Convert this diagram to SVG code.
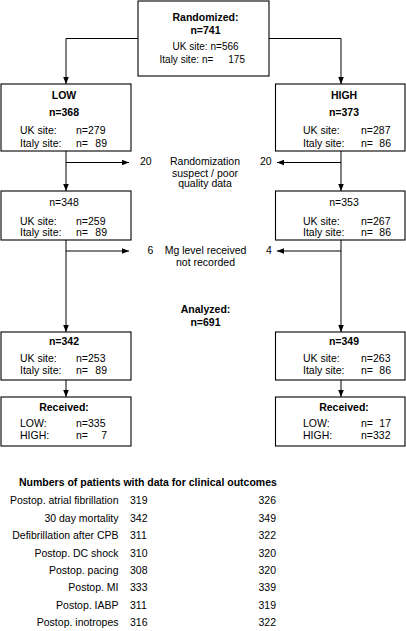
<svg xmlns="http://www.w3.org/2000/svg" width="406" height="631" viewBox="0 0 406 631">
<style>
text{font-family:"Liberation Sans",Arial,sans-serif;font-size:10.5px;fill:#000}
.b{font-weight:bold}
.c{text-anchor:middle}
.e{text-anchor:end}
.s{font-size:10px}
.box{fill:#fff;stroke:#000;stroke-width:1.1}
.ln{fill:none;stroke:#000;stroke-width:1}
</style>
<defs>
<marker id="ah" viewBox="0 0 8 8" refX="8" refY="4" markerWidth="7" markerHeight="7" markerUnits="userSpaceOnUse" orient="auto">
<path d="M0,0.8 L8,4 L0,7.2 Z" fill="#000"/>
</marker>
</defs>
<rect width="406" height="631" fill="#fff"/>

<g id="connectors">
<path class="ln" d="M138,38.5 H66 V84" marker-end="url(#ah)"/>
<path class="ln" d="M269,38.5 H341 V84" marker-end="url(#ah)"/>
<path class="ln" d="M66,151 V191" marker-end="url(#ah)"/>
<path class="ln" d="M66,162.5 H129" marker-end="url(#ah)"/>
<path class="ln" d="M341,151 V191" marker-end="url(#ah)"/>
<path class="ln" d="M341,162.5 H277" marker-end="url(#ah)"/>
<path class="ln" d="M66,240 V332" marker-end="url(#ah)"/>
<path class="ln" d="M66,251 H129" marker-end="url(#ah)"/>
<path class="ln" d="M341,240 V332" marker-end="url(#ah)"/>
<path class="ln" d="M341,251 H277" marker-end="url(#ah)"/>
<path class="ln" d="M66,380 V397" marker-end="url(#ah)"/>
<path class="ln" d="M341,380 V397" marker-end="url(#ah)"/>
</g>

<g id="randomized">
<rect class="box" x="138" y="1" width="131" height="75"/>
<text class="b c" x="205.5" y="21">Randomized:</text>
<text class="b c" x="205.5" y="34">n=741</text>
<text class="s e" x="207.5" y="49.5">UK site:</text>
<text class="s" x="210.5" y="49.5">n=566</text>
<text class="s e" x="199" y="63">Italy site:</text>
<text class="s" x="202" y="63">n=</text>
<text class="s e" x="245" y="63">175</text>
</g>

<g id="low">
<rect class="box" x="1" y="84" width="130" height="67"/>
<text class="b c" x="64" y="99">LOW</text>
<text class="b c" x="64" y="116">n=368</text>
<text x="20" y="134">UK site:</text>
<text x="76" y="134">n=279</text>
<text x="20" y="146.5">Italy site:</text>
<text x="76" y="146.5">n=</text>
<text class="e" x="107" y="146.5">89</text>
</g>

<g id="high">
<rect class="box" x="275.5" y="84" width="129.5" height="67"/>
<text class="b c" x="344" y="99">HIGH</text>
<text class="b c" x="344" y="116">n=373</text>
<text x="303" y="134">UK site:</text>
<text x="361" y="134">n=287</text>
<text x="303" y="146.5">Italy site:</text>
<text x="361" y="146.5">n=</text>
<text class="e" x="391" y="146.5">86</text>
</g>

<g id="excl1">
<text x="140" y="165">20</text>
<text x="260" y="165">20</text>
<text class="c" x="205" y="165">Randomization</text>
<text class="c" x="205" y="176.5">suspect / poor</text>
<text class="c" x="205" y="187">quality data</text>
</g>

<g id="low2">
<rect class="box" x="1" y="191" width="130" height="49"/>
<text class="c" x="64" y="206">n=348</text>
<text x="20" y="224.5">UK site:</text>
<text x="76" y="224.5">n=259</text>
<text x="20" y="235.5">Italy site:</text>
<text x="76" y="235.5">n=</text>
<text class="e" x="107" y="235.5">89</text>
</g>

<g id="high2">
<rect class="box" x="275.5" y="191" width="129.5" height="49"/>
<text class="c" x="344" y="206">n=353</text>
<text x="303" y="224.5">UK site:</text>
<text x="361" y="224.5">n=267</text>
<text x="303" y="235.5">Italy site:</text>
<text x="361" y="235.5">n=</text>
<text class="e" x="391" y="235.5">86</text>
</g>

<g id="excl2">
<text x="147.5" y="254">6</text>
<text x="266" y="254">4</text>
<text class="c" x="205.5" y="254">Mg level received</text>
<text class="c" x="205.5" y="265.5">not recorded</text>
</g>

<g id="analyzed">
<text class="b c" x="205.5" y="313">Analyzed:</text>
<text class="b c" x="205.5" y="326">n=691</text>
</g>

<g id="low3">
<rect class="box" x="1" y="332" width="130" height="48"/>
<text class="b c" x="64" y="345">n=342</text>
<text x="20" y="362">UK site:</text>
<text x="76" y="362">n=253</text>
<text x="20" y="373.5">Italy site:</text>
<text x="76" y="373.5">n=</text>
<text class="e" x="107" y="373.5">89</text>
</g>

<g id="high3">
<rect class="box" x="275.5" y="332" width="129.5" height="48"/>
<text class="b c" x="344" y="345">n=349</text>
<text x="303" y="362">UK site:</text>
<text x="361" y="362">n=263</text>
<text x="303" y="373.5">Italy site:</text>
<text x="361" y="373.5">n=</text>
<text class="e" x="391" y="373.5">86</text>
</g>

<g id="low4">
<rect class="box" x="1" y="397" width="130" height="49"/>
<text class="b c" x="64" y="410.5">Received:</text>
<text x="20" y="427">LOW:</text>
<text x="76" y="427">n=335</text>
<text x="20" y="438.5">HIGH:</text>
<text x="76" y="438.5">n=</text>
<text class="e" x="107" y="438.5">7</text>
</g>

<g id="high4">
<rect class="box" x="275.5" y="397" width="129.5" height="49"/>
<text class="b c" x="344" y="410.5">Received:</text>
<text x="303" y="427">LOW:</text>
<text x="361" y="427">n=</text>
<text class="e" x="391" y="427">17</text>
<text x="303" y="438.5">HIGH:</text>
<text x="361" y="438.5">n=332</text>
</g>

<g id="outcomes">
<text class="b" x="19" y="486">Numbers of patients with data for clinical outcomes</text>
<text class="e" x="118.5" y="504">Postop. atrial fibrillation</text>
<text x="130" y="504">319</text><text class="e" x="276" y="504">326</text>
<text class="e" x="118.5" y="521.5">30 day mortality</text>
<text x="130" y="521.5">342</text><text class="e" x="276" y="521.5">349</text>
<text class="e" x="118.5" y="539">Defibrillation after CPB</text>
<text x="130" y="539">311</text><text class="e" x="276" y="539">322</text>
<text class="e" x="118.5" y="556.5">Postop. DC shock</text>
<text x="130" y="556.5">310</text><text class="e" x="276" y="556.5">320</text>
<text class="e" x="118.5" y="574">Postop. pacing</text>
<text x="130" y="574">308</text><text class="e" x="276" y="574">320</text>
<text class="e" x="118.5" y="591">Postop. MI</text>
<text x="130" y="591">333</text><text class="e" x="276" y="591">339</text>
<text class="e" x="118.5" y="608.5">Postop. IABP</text>
<text x="130" y="608.5">311</text><text class="e" x="276" y="608.5">319</text>
<text class="e" x="118.5" y="626">Postop. inotropes</text>
<text x="130" y="626">316</text><text class="e" x="276" y="626">322</text>
</g>
</svg>
